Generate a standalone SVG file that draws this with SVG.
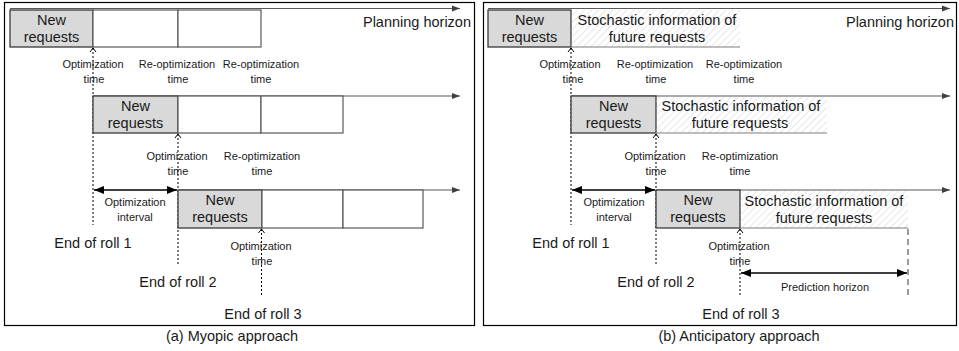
<svg xmlns="http://www.w3.org/2000/svg" width="959" height="351" viewBox="0 0 959 351">
<defs>
<style>
.frame{fill:none;stroke:#000;stroke-width:1.2}
.req{fill:#d9d9d9;stroke:#3a3a3a;stroke-width:1.3}
.slot{fill:#fff;stroke:#595959;stroke-width:1.2}
.stoch{fill:url(#hatch);stroke:none}
.sline{stroke:#7f7f7f;stroke-width:1.2;fill:none}
.axis{stroke:#595959;stroke-width:1.2;fill:none;marker-end:url(#axisHead)}
.dot{stroke:#000;stroke-width:1;stroke-dasharray:2 2;fill:none;marker-start:url(#chev)}
.dash{stroke:#595959;stroke-width:1.2;stroke-dasharray:6 4;fill:none}
.dbl{stroke:#000;stroke-width:1.6;fill:none;marker-start:url(#solidHead);marker-end:url(#solidHead)}
text{font-family:"Liberation Sans",Arial,sans-serif;fill:#1a1a1a;text-anchor:middle}
.big{font-size:14.5px}
.small{font-size:11px}
.end{text-anchor:end}
</style>
<pattern id="hatch" width="5" height="5" patternUnits="userSpaceOnUse" patternTransform="rotate(45)">
<line x1="0" y1="0" x2="0" y2="5" stroke="#c4c4c4" stroke-width="0.8"/>
</pattern>
<marker id="axisHead" markerUnits="userSpaceOnUse" markerWidth="12" markerHeight="10" viewBox="-10 -5 12 10" refX="0" refY="0" orient="auto">
<path d="M0,0 L-8,-3 L-8,3 z" fill="#404040"/>
</marker>
<marker id="solidHead" markerUnits="userSpaceOnUse" markerWidth="14" markerHeight="10" viewBox="-12 -5 14 10" refX="0" refY="0" orient="auto-start-reverse">
<path d="M0,0 L-10,-4 L-10,4 z" fill="#000"/>
</marker>
<marker id="chev" markerUnits="userSpaceOnUse" markerWidth="10" markerHeight="10" viewBox="-6 -5 8 10" refX="0" refY="0" orient="auto-start-reverse">
<path d="M-4,-3 L0,0 L-4,3" fill="none" stroke="#000" stroke-width="1" stroke-dasharray="none"/>
</marker>
</defs>

<rect class="frame" x="4.5" y="2.5" width="470" height="323"/>
<rect class="frame" x="483.5" y="2.5" width="473" height="323"/>

<g id="connectors">
<line class="axis" x1="10" y1="8.5" x2="460" y2="8.5"/>
<line class="axis" x1="93" y1="96" x2="460" y2="96"/>
<line class="axis" x1="178" y1="190" x2="460" y2="190"/>
<line class="dot" x1="93" y1="48" x2="93" y2="225"/>
<line class="dot" x1="178" y1="134" x2="178" y2="264"/>
<line class="dot" x1="261.5" y1="229" x2="261.5" y2="297"/>
<line class="dbl" x1="94" y1="190" x2="177" y2="190"/>
<line class="axis" x1="488" y1="8.5" x2="950" y2="8.5"/>
<line class="axis" x1="571" y1="96" x2="950" y2="96"/>
<line class="axis" x1="656" y1="190" x2="950" y2="190"/>
<line class="dot" x1="571" y1="48" x2="571" y2="225"/>
<line class="dot" x1="656" y1="134" x2="656" y2="264"/>
<line class="dot" x1="740" y1="229" x2="740" y2="296"/>
<line class="dash" x1="908" y1="229" x2="908" y2="295"/>
<line class="dbl" x1="572" y1="190" x2="655" y2="190"/>
<line class="dbl" x1="741" y1="273" x2="907" y2="273"/>
</g>

<g id="a-r1-new"><rect class="req" x="10" y="10" width="83" height="37"/><text class="big" x="51.5" y="25">New</text><text class="big" x="51.5" y="42">requests</text></g>
<g id="a-r1-s1"><rect class="slot" x="93" y="10" width="85" height="37"/></g>
<g id="a-r1-s2"><rect class="slot" x="178" y="10" width="83" height="37"/></g>
<g id="a-r2-new"><rect class="req" x="93" y="96" width="85" height="37"/><text class="big" x="135.5" y="111">New</text><text class="big" x="135.5" y="128">requests</text></g>
<g id="a-r2-s1"><rect class="slot" x="178" y="96" width="83" height="37"/></g>
<g id="a-r2-s2"><rect class="slot" x="261" y="96" width="82" height="37"/></g>
<g id="a-r3-new"><rect class="req" x="178" y="190" width="84" height="38"/><text class="big" x="220" y="205">New</text><text class="big" x="220" y="222">requests</text></g>
<g id="a-r3-s1"><rect class="slot" x="262" y="190" width="81" height="38"/></g>
<g id="a-r3-s2"><rect class="slot" x="343" y="190" width="80" height="38"/></g>

<g id="a-labels">
<text class="big end" x="471" y="27">Planning horizon</text>
<text class="small" x="93" y="68">Optimization</text><text class="small" x="94" y="83">time</text>
<text class="small" x="177" y="68">Re-optimization</text><text class="small" x="178" y="83">time</text>
<text class="small" x="261" y="68">Re-optimization</text><text class="small" x="261" y="83">time</text>
<text class="small" x="177" y="160">Optimization</text><text class="small" x="178" y="175">time</text>
<text class="small" x="262" y="160">Re-optimization</text><text class="small" x="262" y="175">time</text>
<text class="small" x="135" y="206">Optimization</text><text class="small" x="135" y="221">interval</text>
<text class="small" x="261" y="250">Optimization</text><text class="small" x="262" y="265">time</text>
<text class="big" x="93" y="248">End of roll 1</text>
<text class="big" x="178" y="287">End of roll 2</text>
<text class="big" x="263" y="319">End of roll 3</text>
<text class="big" x="232" y="341">(a) Myopic approach</text>
</g>

<g id="b-r1-new"><rect class="req" x="488" y="10" width="83" height="37"/><text class="big" x="529.5" y="25">New</text><text class="big" x="529.5" y="42">requests</text></g>
<g id="b-r1-stoch"><rect class="stoch" x="571" y="10" width="169" height="37"/><line class="sline" x1="571" y1="47" x2="740" y2="47"/><text class="big" x="657" y="24.5">Stochastic information of</text><text class="big" x="657" y="42">future requests</text></g>
<g id="b-r2-new"><rect class="req" x="571" y="96" width="85" height="37"/><text class="big" x="613.5" y="111">New</text><text class="big" x="613.5" y="128">requests</text></g>
<g id="b-r2-stoch"><rect class="stoch" x="656" y="97" width="171" height="36"/><line class="sline" x1="656" y1="133" x2="827" y2="133"/><text class="big" x="741" y="111">Stochastic information of</text><text class="big" x="740" y="128">future requests</text></g>
<g id="b-r3-new"><rect class="req" x="656" y="190" width="84" height="38"/><text class="big" x="698" y="205">New</text><text class="big" x="698" y="222">requests</text></g>
<g id="b-r3-stoch"><rect class="stoch" x="740" y="191" width="168" height="37"/><line class="sline" x1="740" y1="228" x2="908" y2="228"/><text class="big" x="824" y="206">Stochastic information of</text><text class="big" x="824" y="223">future requests</text></g>

<g id="b-labels">
<text class="big end" x="954" y="27">Planning horizon</text>
<text class="small" x="570" y="68">Optimization</text><text class="small" x="573" y="83">time</text>
<text class="small" x="655" y="68">Re-optimization</text><text class="small" x="656" y="83">time</text>
<text class="small" x="744" y="68">Re-optimization</text><text class="small" x="744" y="83">time</text>
<text class="small" x="655" y="160">Optimization</text><text class="small" x="656" y="175">time</text>
<text class="small" x="740" y="160">Re-optimization</text><text class="small" x="740" y="175">time</text>
<text class="small" x="614" y="206">Optimization</text><text class="small" x="614" y="221">interval</text>
<text class="small" x="739" y="250">Optimization</text><text class="small" x="740" y="265">time</text>
<text class="small" x="825" y="291">Prediction horizon</text>
<text class="big" x="571" y="248">End of roll 1</text>
<text class="big" x="656" y="287">End of roll 2</text>
<text class="big" x="741" y="319">End of roll 3</text>
<text class="big" x="739" y="341">(b) Anticipatory approach</text>
</g>
</svg>
